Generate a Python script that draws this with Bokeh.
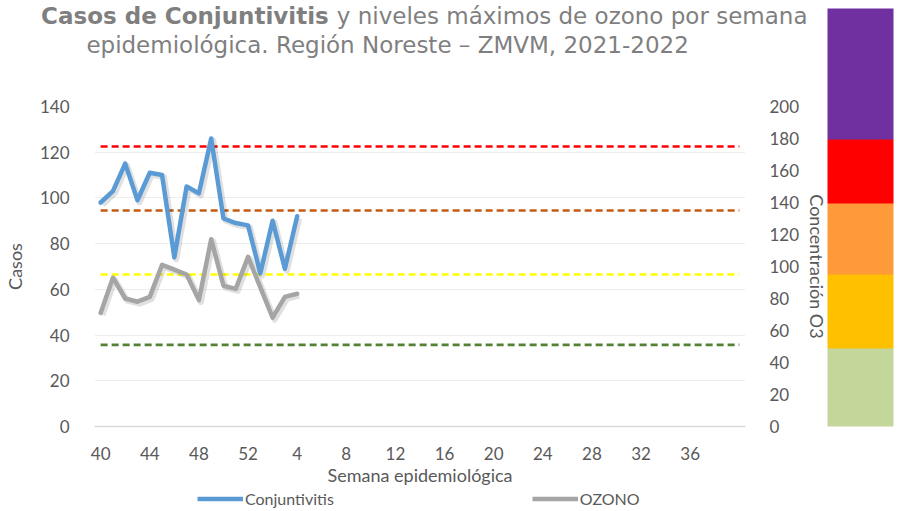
from bokeh.plotting import figure
from bokeh.layouts import column
from bokeh.models import (Range1d, LinearAxis, FixedTicker, Legend, LegendItem, Label,
                          ColorBar, LinearColorMapper)
from bokeh.embed import file_html
from bokeh.resources import INLINE

# ---------------- data ----------------
semanas = [40, 41, 42, 43, 44, 45, 46, 47, 48, 49, 50, 51, 52, 1, 2, 3, 4]
conjuntivitis = [98, 103, 115, 99, 111, 110, 74, 105, 102, 126, 91, 89, 88, 67, 90, 69, 92]
ozono = [71, 93, 80, 78, 81, 101, 98, 95, 79, 117, 88, 86, 106, 87, 68, 81, 83]
n_categorias = 53  # semanas 40-52 y 1-40
tick_labels = ["40", "44", "48", "52", "4", "8", "12", "16", "20", "24", "28", "32", "36"]
umbrales = [51, 95, 135, 175]
umbral_colores = ["#548235", "#FFFF00", "#C55A11", "#FF0000"]
escala_limites = [0, 49, 95, 139, 179, 261]
escala_colores = ["#C4D79B", "#FFC000", "#FF9A3A", "#FF0000", "#7030A0"]

# ---------------- layout ----------------
W, H_MAIN, H_LEG = 900, 489, 21
FL, FR_EDGE, FT, FBOT = 92, 745, 106, 426     # frame edges in page px
FRAME_W, FRAME_H = FR_EDGE - FL, FBOT - FT
X0, X1 = -0.5, n_categorias - 0.5
Y1 = 140

def dx_page(px):   # page x -> category-axis data
    return X0 + (px - FL) * (X1 - X0) / FRAME_W

def dy_page(py):   # page y -> left-axis data
    return (FBOT - py) * Y1 / FRAME_H

TXT = "#595959"
TICKFONT = "Lato"

x_idx = list(range(len(semanas)))

p = figure(width=W, height=H_MAIN, output_backend="svg", toolbar_location=None,
           x_range=Range1d(X0, X1), y_range=Range1d(0, Y1),
           min_border_left=FL, min_border_right=W - FR_EDGE, min_border_top=FT,
           min_border_bottom=H_MAIN - FBOT)
p.outline_line_color = None
p.background_fill_color = "white"
p.border_fill_color = "white"
p.extra_y_ranges = {"o3": Range1d(0, 200)}

p.xgrid.grid_line_color = None
p.ygrid.grid_line_color = "#EDEDED"
p.ygrid.grid_line_width = 1

p.yaxis.ticker = FixedTicker(ticks=list(range(0, 141, 20)))
p.xaxis.ticker = FixedTicker(ticks=[i * 4 for i in range(len(tick_labels))])
p.xaxis.major_label_overrides = {i * 4: lab for i, lab in enumerate(tick_labels)}

ax_r = LinearAxis(y_range_name="o3", ticker=FixedTicker(ticks=list(range(0, 201, 20))))
p.add_layout(ax_r, "right")

ax_l = p.yaxis[0]
ax_l.axis_label = "Casos"
ax_r.axis_label = "Concentración O3"
for ax in [ax_l, ax_r]:
    ax.axis_line_color = None
    ax.major_tick_line_color = None
    ax.minor_tick_line_color = None
    ax.major_label_text_font = TICKFONT
    ax.major_label_text_font_size = "17px"
    ax.major_label_text_color = TXT
    ax.axis_label_text_font = TICKFONT
    ax.axis_label_text_font_size = "18px"
    ax.axis_label_text_font_style = "normal"
    ax.axis_label_text_color = TXT
ax_l.major_label_standoff = 19
ax_l.axis_label_standoff = 11
ax_r.major_label_standoff = 18
ax_r.axis_label_standoff = 4

xa = p.xaxis[0]
xa.axis_label = "Semana epidemiológica"
xa.axis_line_color = "#D9D9D9"
xa.axis_line_width = 1.5
xa.major_tick_line_color = None
xa.minor_tick_line_color = None
xa.major_label_text_font = TICKFONT
xa.major_label_text_font_size = "17px"
xa.major_label_text_color = TXT
xa.major_label_standoff = 14
xa.axis_label_text_font = TICKFONT
xa.axis_label_text_font_size = "18px"
xa.axis_label_text_font_style = "normal"
xa.axis_label_text_color = TXT
xa.axis_label_standoff = 1

# threshold dashed lines (ozone axis)
for u, c in zip(umbrales, umbral_colores):
    p.line([0, n_categorias - 1], [u, u], y_range_name="o3", line_color=c,
           line_width=2.6, line_dash="7 4")

# soft shadows
sdx = 2 * (X1 - X0) / FRAME_W
p.line([i + sdx for i in x_idx], [v - 2 * Y1 / FRAME_H for v in conjuntivitis],
       line_color="black", line_alpha=0.12, line_width=6, line_join="round")
p.line([i + sdx for i in x_idx], [v - 2 * 200 / FRAME_H for v in ozono], y_range_name="o3",
       line_color="black", line_alpha=0.12, line_width=6, line_join="round")

BLUE, GREY = "#5B9BD5", "#A5A5A5"
p.line(x_idx, conjuntivitis, line_color=BLUE, line_width=4.5,
       line_join="round", line_cap="round")
p.line(x_idx, ozono, y_range_name="o3", line_color=GREY, line_width=4.5,
       line_join="round", line_cap="round")

# ---------------- title (labels in the top panel, positioned through the scales) ----------
TCOL = "#7F7F7F"
TFONT = "DejaVu Sans"
TSIZE = "23px"
SPLIT = 327
p.add_layout(Label(x=dx_page(SPLIT), y=dy_page(15), text="Casos de Conjuntivitis",
                   text_align="right", text_baseline="alphabetic", text_font=TFONT,
                   text_font_size=TSIZE, text_font_style="bold", text_color=TCOL), "above")
p.add_layout(Label(x=dx_page(SPLIT + 8), y=dy_page(15),
                   text="y niveles máximos de ozono por semana", text_align="left",
                   text_baseline="alphabetic", text_font=TFONT, text_font_size=TSIZE,
                   text_color=TCOL), "above")
p.add_layout(Label(x=dx_page(386), y=dy_page(44),
                   text="epidemiológica. Región Noreste – ZMVM, 2021-2022",
                   text_align="center", text_baseline="alphabetic", text_font=TFONT,
                   text_font_size=TSIZE, text_color=TCOL), "above")

# ---------------- colour scale for ozone ----------------
paleta = []
for lo, hi, c in zip(escala_limites[:-1], escala_limites[1:], escala_colores):
    paleta += [c] * (hi - lo)
mapper = LinearColorMapper(palette=paleta, low=escala_limites[0], high=escala_limites[-1])
PX_PER_O3 = FRAME_H / 200.0
cb = ColorBar(color_mapper=mapper, orientation="vertical", location=(-4, 0),
              width=66, height=int(round(escala_limites[-1] * PX_PER_O3)),
              padding=0, margin=0, ticker=FixedTicker(ticks=[]),
              major_label_text_font_size="0px", major_tick_line_color=None,
              minor_tick_line_color=None, bar_line_color=None, border_line_color=None,
              background_fill_alpha=0, label_standoff=0)
p.add_layout(cb, "right")

# ---------------- legend strip (own small figure, same frame columns) ----------------
lf = figure(width=W, height=H_LEG, output_backend="svg", toolbar_location=None,
            x_range=Range1d(-2, -1), y_range=Range1d(-2, -1),
            min_border_left=FL, min_border_right=W - FR_EDGE, min_border_top=0,
            min_border_bottom=0)
lf.axis.visible = False
lf.grid.visible = False
lf.outline_line_color = None
lf.border_fill_color = "white"
lf.background_fill_color = "white"
# the same series, out of this strip's view, only to feed the legend samples
lr1 = lf.line(x_idx, conjuntivitis, line_color=BLUE, line_width=4.5)
lr2 = lf.line(x_idx, ozono, line_color=GREY, line_width=4.5)
legend = Legend(items=[LegendItem(label="Conjuntivitis", renderers=[lr1]),
                       LegendItem(label="OZONO", renderers=[lr2])],
                orientation="horizontal", location=(195 - FL, 2),
                glyph_width=46, glyph_height=17, label_height=17,
                label_standoff=2, spacing=198, padding=0, margin=0,
                border_line_color=None, background_fill_alpha=0,
                label_text_font=TICKFONT, label_text_font_size="16px",
                label_text_color=TXT)
lf.add_layout(legend, "center")

layout = column(p, lf, spacing=0)
open("out.html", "w").write(file_html(layout, INLINE))
